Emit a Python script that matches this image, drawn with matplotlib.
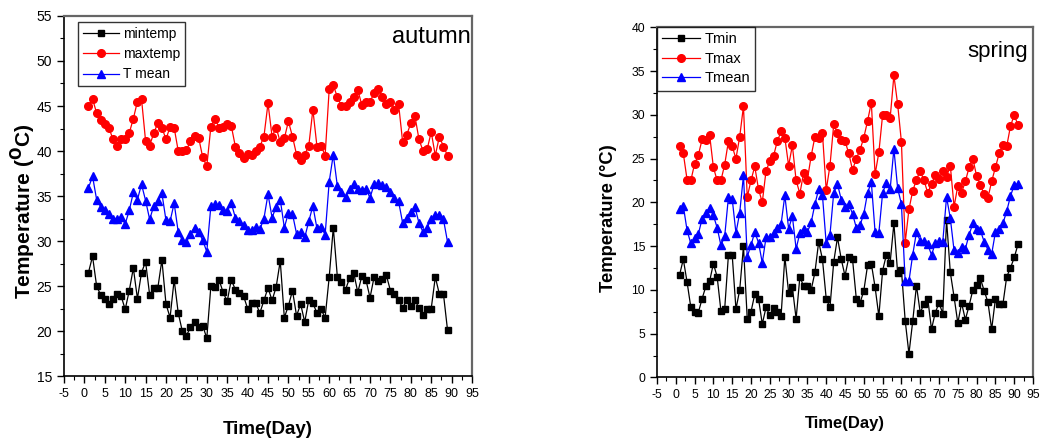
import matplotlib
matplotlib.use("Agg")
import matplotlib.pyplot as plt
from matplotlib.ticker import MultipleLocator

plt.rcParams["font.family"] = ["Liberation Sans", "DejaVu Sans"]
plt.rcParams["axes.unicode_minus"] = False

# autumn: days 1..89
autumn_min = [26.5, 28.3, 25.0, 24.0, 23.6, 23.0, 23.6, 24.1, 23.9, 22.4,
              24.5, 27.0, 23.6, 26.5, 27.7, 24.0, 24.8, 24.8, 27.9, 23.0,
              21.5, 25.7, 22.0, 20.0, 19.5, 20.4, 21.0, 20.5, 20.6, 19.2,
              25.0, 24.9, 25.7, 24.3, 23.3, 25.7, 24.6, 24.2, 23.9, 22.5,
              23.1, 23.1, 22.0, 23.4, 24.8, 23.4, 24.9, 27.8, 21.5, 22.8,
              24.5, 21.7, 23.0, 21.0, 23.5, 23.1, 22.0, 22.4, 21.5, 26.0,
              31.5, 26.0, 25.5, 24.6, 25.9, 26.5, 24.3, 26.1, 25.7, 23.7,
              26.0, 25.6, 25.8, 26.2, 24.5, 24.1, 23.4, 22.6, 23.4, 22.8,
              23.4, 22.6, 21.8, 22.5, 22.5, 26.0, 24.1, 24.1, 20.1]
autumn_max = [45.0, 45.8, 44.2, 43.5, 43.0, 42.6, 41.3, 40.6, 41.3, 41.3,
              42.0, 43.6, 45.5, 45.8, 41.1, 40.6, 42.0, 43.1, 42.6, 41.3,
              42.7, 42.6, 40.0, 40.0, 40.1, 41.1, 41.7, 41.5, 39.3, 38.3,
              42.7, 43.6, 42.6, 42.7, 43.0, 42.8, 40.5, 39.8, 39.2, 39.7,
              39.6, 40.0, 40.5, 41.6, 45.3, 41.6, 42.6, 41.0, 41.4, 43.3,
              41.6, 39.6, 39.0, 39.6, 40.6, 44.6, 40.5, 40.6, 39.5, 46.9,
              47.3, 46.0, 45.0, 45.0, 45.5, 46.0, 46.8, 45.1, 45.5, 45.5,
              46.4, 46.9, 46.0, 45.2, 45.5, 44.6, 45.2, 41.0, 41.8, 43.1,
              43.9, 41.3, 40.0, 40.2, 42.1, 39.5, 41.6, 40.5, 39.5]
autumn_mean = [35.9, 37.2, 34.6, 33.8, 33.5, 33.0, 32.5, 32.5, 32.7, 31.9,
               33.4, 35.4, 34.6, 36.3, 34.5, 32.4, 33.9, 34.4, 35.3, 32.3,
               32.2, 34.2, 31.0, 30.1, 29.9, 30.8, 31.5, 31.0, 30.1, 28.8,
               33.9, 34.1, 34.0, 33.5, 33.3, 34.2, 32.6, 32.2, 31.8, 31.2,
               31.2, 31.6, 31.3, 32.5, 35.2, 32.6, 33.8, 34.6, 31.5, 33.1,
               33.0, 30.8, 31.0, 30.4, 32.2, 33.9, 31.4, 31.6, 30.7, 36.6,
               39.6, 36.1, 35.4, 34.9, 35.8, 36.3, 35.8, 35.7, 35.8, 34.8,
               36.3, 36.4, 36.2, 36.0, 35.4, 34.8, 34.4, 32.0, 32.6, 33.2,
               33.8, 32.0, 31.0, 31.5, 32.4, 32.9, 32.9, 32.4, 29.9]
autumn_days = list(range(1, len(autumn_min) + 1))

# spring: days 1..91
spring_min = [11.7, 13.5, 10.9, 8.0, 7.5, 7.4, 9.0, 10.4, 11.0, 13.0,
              11.5, 7.6, 7.8, 14.0, 14.0, 7.8, 10.0, 15.0, 6.7, 7.5,
              9.5, 9.0, 6.1, 8.0, 7.1, 7.9, 7.5, 7.0, 13.8, 9.7,
              10.3, 6.7, 11.5, 10.4, 10.5, 10.0, 12.0, 15.5, 13.5, 9.0,
              8.0, 13.2, 16.0, 13.5, 11.6, 13.7, 13.5, 9.0, 8.5, 9.9,
              12.8, 13.0, 10.3, 7.0, 12.2, 14.0, 13.1, 17.6, 11.9, 12.3,
              6.5, 2.7, 6.4, 10.5, 7.4, 8.4, 9.0, 5.5, 7.4, 8.5,
              7.3, 18.0, 12.0, 9.2, 6.2, 8.5, 6.6, 8.2, 10.0, 10.6,
              11.3, 9.9, 8.6, 5.5, 9.0, 8.4, 8.4, 11.5, 12.5, 13.7, 15.2]
spring_max = [26.4, 25.6, 22.6, 22.5, 24.4, 25.4, 27.2, 27.1, 27.7, 24.0,
              22.5, 22.5, 24.3, 27.0, 26.4, 25.0, 27.5, 31.0, 20.6, 22.5,
              24.1, 21.5, 20.0, 23.6, 24.7, 25.3, 27.0, 28.1, 27.4, 24.2,
              26.5, 22.5, 21.0, 23.4, 22.6, 25.3, 27.5, 27.3, 27.9, 21.4,
              24.2, 28.9, 27.9, 27.1, 27.0, 25.6, 23.7, 25.0, 26.0, 27.4,
              29.3, 31.4, 23.2, 25.7, 30.0, 30.0, 29.6, 34.5, 31.2, 26.9,
              15.4, 19.2, 21.3, 22.6, 23.6, 22.5, 21.1, 22.1, 23.1, 22.7,
              23.6, 22.9, 24.2, 19.5, 21.9, 21.1, 22.4, 24.0, 25.0, 23.0,
              22.0, 20.9, 20.5, 22.4, 24.0, 25.6, 26.5, 26.4, 28.7, 30.0, 28.8]
spring_mean = [19.2, 19.6, 16.8, 15.3, 15.9, 16.4, 18.1, 18.8, 19.4, 18.5,
               17.1, 15.1, 16.1, 20.6, 20.4, 16.5, 18.8, 23.1, 13.8, 15.1,
               16.6, 15.4, 13.1, 16.0, 16.0, 16.5, 17.1, 17.5, 20.8, 17.0,
               18.4, 14.7, 16.5, 17.0, 16.6, 17.7, 19.8, 21.5, 20.8, 15.3,
               16.3, 21.1, 22.1, 20.3, 19.5, 19.8, 18.7, 17.1, 17.4, 18.7,
               21.1, 22.3, 16.6, 16.5, 21.1, 22.2, 21.5, 26.1, 21.6, 19.8,
               11.0, 11.0, 14.0, 16.6, 15.6, 15.6, 15.2, 14.0, 15.3, 15.6,
               15.5, 20.6, 18.2, 14.5, 14.2, 14.9, 14.7, 16.3, 17.6, 16.9,
               16.8, 15.5, 14.6, 14.1, 16.6, 17.0, 17.6, 19.0, 20.7, 22.0, 22.1]
spring_days = list(range(1, len(spring_min) + 1))

autumn_labels = ["mintemp", "maxtemp", "T mean"]
spring_labels = ["Tmin", "Tmax", "Tmean"]


def panel(ax, days, lo, hi, mean, labels, ylim, ylabel, season, fs):
    ax.plot(days, lo, "-s", color="black", lw=0.9, ms=5.0, label=labels[0])
    ax.plot(days, hi, "-o", color="red", lw=0.9, ms=5.5, label=labels[1])
    ax.plot(days, mean, "-^", color="blue", lw=0.9, ms=5.8, label=labels[2])
    ax.set_xlim(-5, 95)
    ax.set_ylim(*ylim)
    ax.xaxis.set_major_locator(MultipleLocator(5))
    ax.xaxis.set_minor_locator(MultipleLocator(2.5))
    ax.yaxis.set_major_locator(MultipleLocator(5))
    ax.yaxis.set_minor_locator(MultipleLocator(2.5))
    ax.tick_params(which="major", direction="out", length=5, width=1,
                   top=False, right=False)
    ax.tick_params(axis="x", labelsize=fs["xtick"])
    ax.tick_params(axis="y", labelsize=fs["ytick"])
    ax.tick_params(which="minor", direction="out", length=3, width=0.8,
                   top=False, right=False)
    for side in ("left", "bottom"):
        ax.spines[side].set_linewidth(1.2)
    for side in ("top", "right"):
        ax.spines[side].set_color("#666666")
        ax.spines[side].set_linewidth(1.6)
    ax.set_ylabel(ylabel, fontsize=fs["ylab"], fontweight="bold")
    ax.yaxis.set_label_coords(*fs["ypos"])
    ax.set_xlabel("Time(Day)", fontsize=fs["xlab"], fontweight="bold", labelpad=fs["xpad"])
    ax.text(fs["sx"], fs["sy"], season, transform=ax.transAxes, ha="right", va="top",
            fontsize=fs["season"])
    leg = ax.legend(loc="upper left", bbox_to_anchor=fs["legpos"], borderaxespad=0,
                    fontsize=fs["leg"], frameon=True, fancybox=False,
                    edgecolor="black", handlelength=2.6, handletextpad=0.3,
                    labelspacing=fs["legsp"], borderpad=0.35)
    leg.get_frame().set_linewidth(1.0)


fig = plt.figure(figsize=(10.42, 4.44), dpi=100)
ax1 = fig.add_axes([0.0614, 0.153, 0.3916, 0.811])
ax2 = fig.add_axes([0.6305, 0.150, 0.3609, 0.7885])

panel(ax1, autumn_days, autumn_min, autumn_max, autumn_mean, autumn_labels,
      (15, 55), r"Temperature ($\mathbf{^{O}}$C)", "autumn",
      dict(xtick=9, ytick=10, ylab=15, xlab=13.5, ypos=(-0.064, 0.458), xpad=15,
           season=17, sx=0.998, sy=0.973, leg=10, legsp=0.45, legpos=(0.034, 0.983)))
panel(ax2, spring_days, spring_min, spring_max, spring_mean, spring_labels,
      (0, 40), "Temperature (\u00b0C)", "spring",
      dict(xtick=8.8, ytick=8.8, ylab=13.2, xlab=12, ypos=(-0.106, 0.455), xpad=11,
           season=16, sx=0.987, sy=0.961, leg=10.5, legsp=0.38, legpos=(0.0, 1.0)))

fig.savefig("out.png", dpi=100)
